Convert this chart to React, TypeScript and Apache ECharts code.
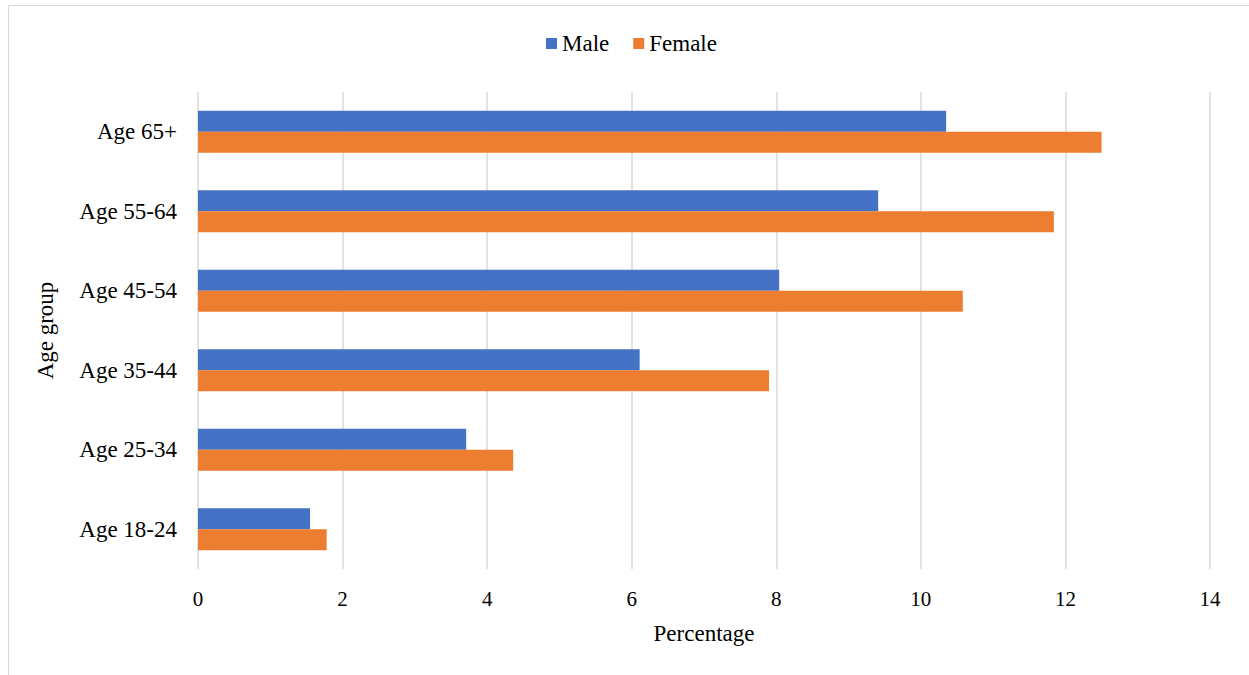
import React, { useEffect, useRef } from "react";
import * as echarts from "echarts";

const categories = ["Age 18-24", "Age 25-34", "Age 35-44", "Age 45-54", "Age 55-64", "Age 65+"];
const maleValues = [1.55, 3.71, 6.11, 8.04, 9.41, 10.35];
const femaleValues = [1.78, 4.36, 7.9, 10.58, 11.84, 12.5];
const legendNames = ["Male", "Female"];
const xTicks = { min: 0, max: 14, interval: 2 };

const FONT = "'Liberation Serif', 'Times New Roman', serif";

export default function App() {
  const ref = useRef<HTMLDivElement>(null);
  useEffect(() => {
    document.body.style.margin = "0";
    const chart = echarts.init(ref.current!, undefined, { renderer: "svg" });
    const legendText = { fontFamily: FONT, fontSize: 23, color: "#000" };
    chart.setOption({
      animation: false,
      backgroundColor: "#ffffff",
      textStyle: { fontFamily: FONT },
      graphic: [
        {
          type: "rect",
          shape: { x: 8.5, y: 5.5, width: 1400, height: 800 },
          style: { fill: "none", stroke: "#d9d9d9", lineWidth: 1 },
          silent: true,
        },
      ],
      legend: {
        data: legendNames.map((n) => ({ name: n, textStyle: legendText })),
        top: 27,
        left: 541,
        itemWidth: 11,
        itemHeight: 11,
        itemGap: 24,
        icon: "rect",
        textStyle: legendText,
      },
      grid: { left: 198, right: 39, top: 92, bottom: 106, containLabel: false },
      xAxis: {
        type: "value",
        min: xTicks.min,
        max: xTicks.max,
        interval: xTicks.interval,
        name: "Percentage",
        nameLocation: "middle",
        nameGap: 53,
        nameTextStyle: { fontFamily: FONT, fontSize: 23, color: "#000" },
        axisLine: { show: false },
        axisTick: { show: false },
        axisLabel: { fontFamily: FONT, fontSize: 21, color: "#000", margin: 19 },
        splitLine: { show: true, lineStyle: { color: "#d9d9d9", width: 1.5 } },
      },
      yAxis: {
        type: "category",
        data: categories,
        name: "Age group",
        nameLocation: "middle",
        nameGap: 141,
        nameRotate: 90,
        nameTextStyle: { fontFamily: FONT, fontSize: 23, color: "#000" },
        axisLine: { show: false },
        axisTick: { show: false },
        axisLabel: { fontFamily: FONT, fontSize: 23, color: "#000", margin: 21 },
        splitLine: { show: false },
      },
      series: [
        {
          name: "Male",
          type: "bar",
          data: maleValues,
          barWidth: 21,
          barGap: "0%",
          itemStyle: { color: "#4472C4" },
        },
        {
          name: "Female",
          type: "bar",
          data: femaleValues,
          barWidth: 21,
          barGap: "0%",
          itemStyle: { color: "#ED7D31" },
        },
      ],
    });
    return () => chart.dispose();
  }, []);
  return <div ref={ref} style={{ width: 1249, height: 675 }} />;
}
